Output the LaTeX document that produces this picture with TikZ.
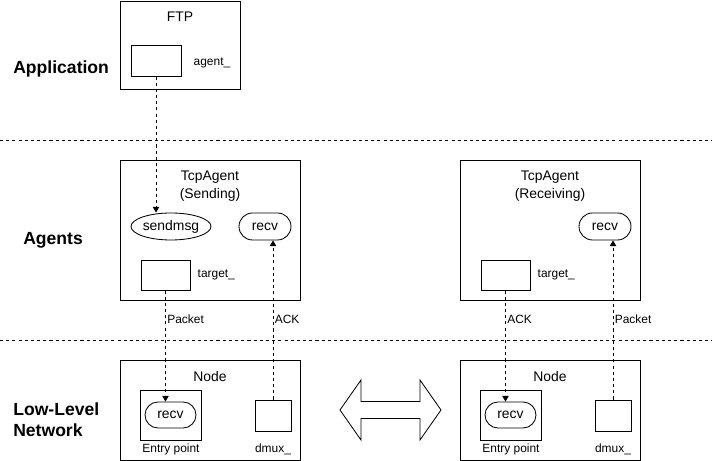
\documentclass[tikz,border=0pt]{standalone}
\usepackage{fontspec}
\setmainfont{Liberation Sans}
\usetikzlibrary{arrows.meta,shapes.geometric,shapes.misc}

\begin{document}
\begin{tikzpicture}[
    lay/.style={rectangle, draw, semithick, minimum width=4.5cm, minimum height=3.5cm},
    slot/.style={rectangle, draw, semithick, minimum width=1.25cm, minimum height=0.775cm},
    fn/.style={ellipse, draw, semithick, minimum width=2.0cm, minimum height=0.675cm,
               inner sep=0pt, font=\fontsize{9.9pt}{12pt}\selectfont},
    proc/.style={rounded rectangle, draw, semithick, minimum width=1.3cm, minimum height=0.675cm,
                 inner sep=0pt, font=\fontsize{9.9pt}{12pt}\selectfont},
    txt/.style={font=\fontsize{9.9pt}{12.6pt}\selectfont, align=center},
    note/.style={font=\fontsize{8.5pt}{10pt}\selectfont, inner sep=1pt},
    layer/.style={font=\fontsize{12.5pt}{14.9pt}\selectfont\bfseries, align=left,
                  anchor=west, inner sep=0pt},
    dline/.style={semithick, dash pattern=on 2.2pt off 2.2pt},
    flow/.style={draw, dline, -{Triangle[length=4pt, width=4.5pt]}}
]
    \useasboundingbox (0,0) rectangle (17.8,11.525);

    % layers
    \node[layer] (lapp)   at (0.325, 9.8)    {Application};
    \node[layer] (lagent) at (0.575, 5.525)  {Agents};
    \node[layer] (lnet)   at (0.325, 1.0375) {Low-Level\\Network};
    \draw[dline] (0,8.025) -- (17.8,8.025);
    \draw[dline] (0,3.025) -- (17.8,3.025);

    % application
    \node[lay, minimum width=3.0cm, minimum height=2.2cm] (ftp) at (4.5, 10.4) {};
    \node[txt] (ftpname) at (4.5, 11.1) {FTP};
    \node[slot] (agent) at (3.9, 10.0125) {};
    \node[note, anchor=west] (agentlbl) at (4.8, 9.95) {agent\_};

    % sending agent
    \node[lay] (snd) at (5.25, 5.775) {};
    \node[txt] (sndname) at (5.25, 6.875) {TcpAgent\\(Sending)};
    \node[fn]   (sendmsg) at (4.275, 5.8625) {sendmsg};
    \node[proc] (recvS)   at (6.625, 5.8625) {recv};
    \node[slot, minimum width=1.225cm, minimum height=0.75cm] (targetS) at (4.1375, 4.65) {};
    \node[note, anchor=west] (targetSlbl) at (4.9, 4.65) {target\_};

    % receiving agent
    \node[lay] (rcv) at (13.75, 5.775) {};
    \node[txt] (rcvname) at (13.75, 6.875) {TcpAgent\\(Receiving)};
    \node[proc] (recvR) at (15.125, 5.8625) {recv};
    \node[slot, minimum width=1.225cm, minimum height=0.75cm] (targetR) at (12.6375, 4.65) {};
    \node[note, anchor=west] (targetRlbl) at (13.4, 4.65) {target\_};

    % nodes
    \node[lay, minimum height=2.5cm] (nodeL) at (5.25, 1.275) {};
    \node[txt] (nodeLname) at (5.25, 2.1) {Node};
    \node[slot, minimum width=1.525cm, minimum height=1.25cm] (entryL) at (4.2625, 1.15) {};
    \node[proc, minimum width=1.275cm, minimum height=0.65cm] (recvL) at (4.2625, 1.15) {recv};
    \node[note] (entryLlbl) at (4.275, 0.3) {Entry point};
    \node[slot, minimum width=0.9cm] (dmuxL) at (6.825, 1.1375) {};
    \node[note] (dmuxLlbl) at (6.825, 0.3) {dmux\_};

    \node[lay, minimum height=2.5cm] (nodeR) at (13.75, 1.275) {};
    \node[txt] (nodeRname) at (13.75, 2.1) {Node};
    \node[slot, minimum width=1.525cm, minimum height=1.25cm] (entryR) at (12.7625, 1.15) {};
    \node[proc, minimum width=1.275cm, minimum height=0.65cm] (recvN) at (12.7625, 1.15) {recv};
    \node[note] (entryRlbl) at (12.775, 0.3) {Entry point};
    \node[slot, minimum width=0.9cm] (dmuxR) at (15.325, 1.1375) {};
    \node[note] (dmuxRlbl) at (15.325, 0.3) {dmux\_};

    % link between the nodes
    \draw[semithick] (8.5,1.275) -- (9.025,2.025) -- (9.025,1.4875) -- (10.5,1.4875)
        -- (10.5,2.025) -- (11.025,1.275) -- (10.5,0.525) -- (10.5,1.0625)
        -- (9.025,1.0625) -- (9.025,0.525) -- cycle;

    \draw[flow] (agent.south) -- (agent.south |- sendmsg.north);
    \draw[flow] (targetS.south) -- (targetS.south |- recvL.north)
        node[note, pos=0.26, anchor=west] {Packet};
    \draw[flow] (dmuxL.north) -- (dmuxL.north |- recvS.south)
        node[note, pos=0.506, anchor=west] {ACK};
    \draw[flow] (targetR.south) -- (targetR.south |- recvN.north)
        node[note, pos=0.26, anchor=west] {ACK};
    \draw[flow] (dmuxR.north) -- (dmuxR.north |- recvR.south)
        node[note, pos=0.506, anchor=west] {Packet};
\end{tikzpicture}
\end{document}
